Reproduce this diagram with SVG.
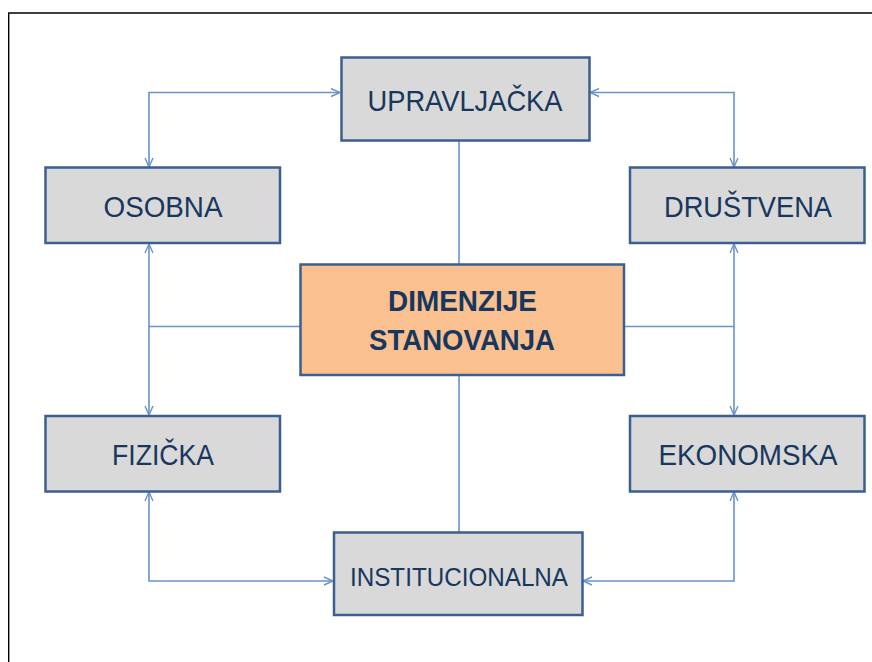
<svg xmlns="http://www.w3.org/2000/svg" width="872" height="662" viewBox="0 0 872 662">
<defs>
<style>
.box{fill:#d9d9d9;stroke:#3b5f8e;stroke-width:2.5}
.core{fill:#fac090;stroke:#3b5f8e;stroke-width:2.5}
.lbl{font-family:"Liberation Sans",Arial,sans-serif;font-size:29px;fill:#17375e;text-anchor:middle}
.bold{font-weight:bold;font-size:29px}
.inst{font-size:26.5px}
.con{fill:none;stroke:#6892cc;stroke-width:1.6}
.frame{fill:none;stroke:#000;stroke-width:1.4}
</style>
<marker id="arr" viewBox="0 0 10 10" refX="10" refY="5" markerWidth="10" markerHeight="10" markerUnits="userSpaceOnUse" orient="auto-start-reverse">
<path d="M1,1 L10,5 L1,9" fill="none" stroke="#6892cc" stroke-width="1.4"/>
</marker>
</defs>
<rect x="0" y="0" width="872" height="662" fill="#fff"/>
<path class="frame" d="M8.7,662 V13 H872"/>
<g id="connectors">
<path class="con" d="M149,167 V92.5 H340" marker-start="url(#arr)" marker-end="url(#arr)"/>
<path class="con" d="M590,92.5 H734 V167" marker-start="url(#arr)" marker-end="url(#arr)"/>
<path class="con" d="M149,244 V415" marker-start="url(#arr)" marker-end="url(#arr)"/>
<path class="con" d="M734,244 V415" marker-start="url(#arr)" marker-end="url(#arr)"/>
<path class="con" d="M149,492 V581 H333" marker-start="url(#arr)" marker-end="url(#arr)"/>
<path class="con" d="M583,581 H734 V492" marker-start="url(#arr)" marker-end="url(#arr)"/>
<path class="con" d="M149,326.5 H300"/>
<path class="con" d="M624,326.5 H734"/>
<path class="con" d="M459,141 V264"/>
<path class="con" d="M459,375 V532"/>
</g>
<g id="upravljacka">
<rect class="box" x="341.5" y="57.5" width="248" height="83"/>
<text class="lbl" x="465" y="111" textLength="195" lengthAdjust="spacingAndGlyphs">UPRAVLJAČKA</text>
</g>
<g id="osobna">
<rect class="box" x="45.5" y="167.5" width="234.5" height="75.5"/>
<text class="lbl" x="163" y="216.5" textLength="119" lengthAdjust="spacingAndGlyphs">OSOBNA</text>
</g>
<g id="drustvena">
<rect class="box" x="630" y="167.5" width="234.5" height="75.5"/>
<text class="lbl" x="748" y="216.5" textLength="168" lengthAdjust="spacingAndGlyphs">DRUŠTVENA</text>
</g>
<g id="dimenzije">
<rect class="core" x="300.5" y="264.5" width="323.5" height="110.5"/>
<text class="lbl bold" x="462.5" y="311" textLength="149" lengthAdjust="spacingAndGlyphs">DIMENZIJE</text>
<text class="lbl bold" x="462" y="350" textLength="186" lengthAdjust="spacingAndGlyphs">STANOVANJA</text>
</g>
<g id="fizicka">
<rect class="box" x="45.5" y="416" width="234.5" height="75.5"/>
<text class="lbl" x="163" y="465" textLength="102" lengthAdjust="spacingAndGlyphs">FIZIČKA</text>
</g>
<g id="ekonomska">
<rect class="box" x="630" y="416" width="234.5" height="75.5"/>
<text class="lbl" x="748" y="465" textLength="179" lengthAdjust="spacingAndGlyphs">EKONOMSKA</text>
</g>
<g id="institucionalna">
<rect class="box" x="334" y="532.5" width="248.5" height="82.5"/>
<text class="lbl inst" x="459" y="585.5" textLength="218" lengthAdjust="spacingAndGlyphs">INSTITUCIONALNA</text>
</g>
</svg>
